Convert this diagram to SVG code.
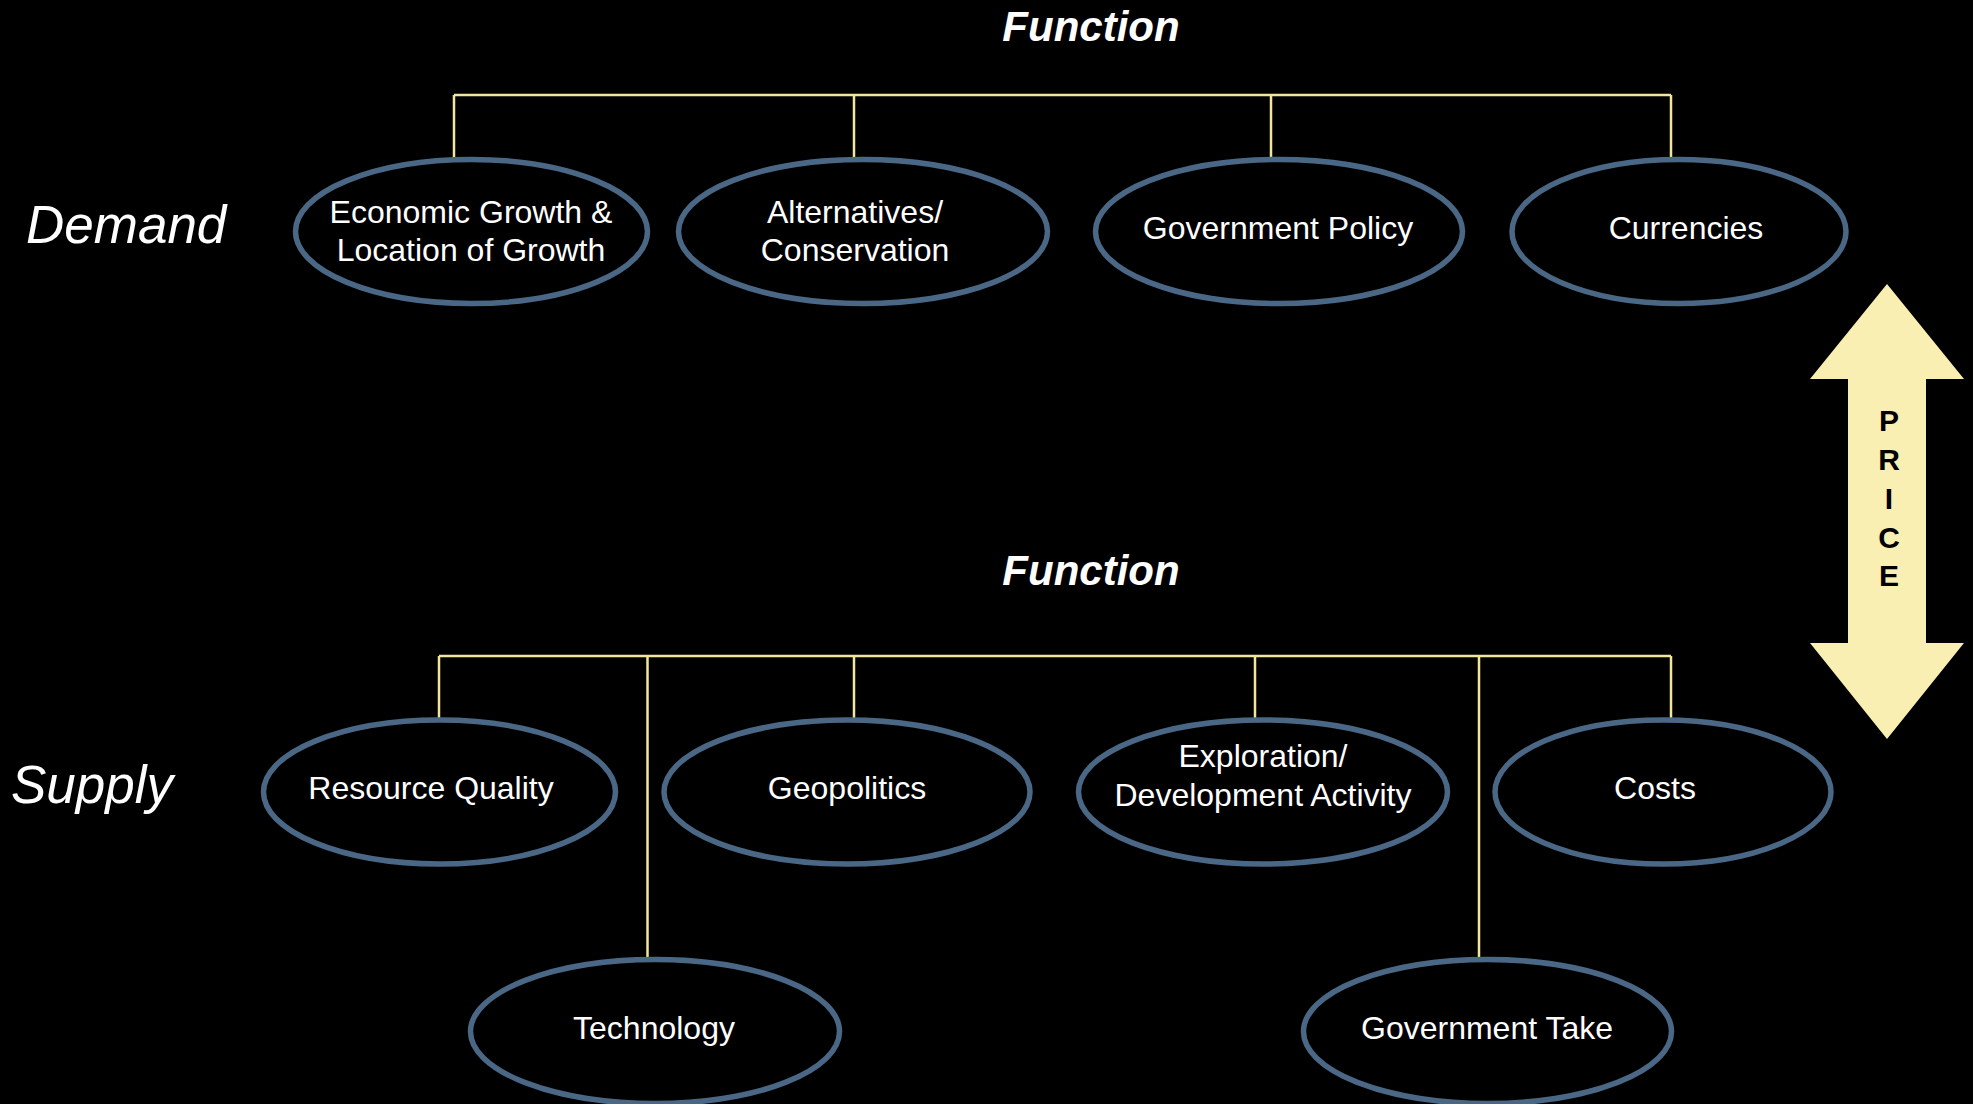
<svg xmlns="http://www.w3.org/2000/svg" width="1973" height="1104" viewBox="0 0 1973 1104">
<style>
.bg{fill:#000000}
.node ellipse{fill:#000000;stroke:#4A6886;stroke-width:5.5}
.node text{font-family:"Liberation Sans",Arial,sans-serif;font-size:32px;fill:#FFFFFF;text-anchor:middle}
.conn line{stroke:#F2E69E;stroke-width:2.5}
.title{font-family:"Liberation Sans",Arial,sans-serif;font-size:42px;font-weight:bold;font-style:italic;fill:#FFFFFF;text-anchor:middle}
.side{font-family:"Liberation Sans",Arial,sans-serif;font-size:53px;font-style:italic;fill:#FFFFFF}
.price{font-family:"Liberation Sans",Arial,sans-serif;font-size:30px;font-weight:bold;fill:#000000;text-anchor:middle}
</style>
<rect class="bg" x="0" y="0" width="1973" height="1104"/>

<text class="title" x="1091" y="41">Function</text>
<text class="title" x="1091" y="585">Function</text>
<text class="side" x="26" y="243">Demand</text>
<text class="side" x="11" y="803">Supply</text>

<g id="connectors" class="conn">
  <line x1="454" y1="95" x2="1671" y2="95"/>
  <line x1="454" y1="95" x2="454" y2="159"/>
  <line x1="854" y1="95" x2="854" y2="159"/>
  <line x1="1271" y1="95" x2="1271" y2="159"/>
  <line x1="1671" y1="95" x2="1671" y2="159"/>
  <line x1="439" y1="656" x2="1671" y2="656"/>
  <line x1="439" y1="656" x2="439" y2="719"/>
  <line x1="647.5" y1="656" x2="647.5" y2="959"/>
  <line x1="854" y1="656" x2="854" y2="719"/>
  <line x1="1255" y1="656" x2="1255" y2="719"/>
  <line x1="1479" y1="656" x2="1479" y2="959"/>
  <line x1="1671" y1="656" x2="1671" y2="719"/>
</g>

<g id="n-econ" class="node">
  <ellipse cx="471.5" cy="231.5" rx="176" ry="72"/>
  <text x="471" y="223">Economic Growth &amp;</text>
  <text x="471" y="261">Location of Growth</text>
</g>
<g id="n-alt" class="node">
  <ellipse cx="863" cy="231.5" rx="184.5" ry="72"/>
  <text x="855" y="223">Alternatives/</text>
  <text x="855" y="261">Conservation</text>
</g>
<g id="n-govpol" class="node">
  <ellipse cx="1279" cy="231.5" rx="183.5" ry="72"/>
  <text x="1278" y="239">Government Policy</text>
</g>
<g id="n-curr" class="node">
  <ellipse cx="1679" cy="231.5" rx="167" ry="72"/>
  <text x="1686" y="239">Currencies</text>
</g>

<g id="n-resq" class="node">
  <ellipse cx="439.5" cy="792" rx="176" ry="72"/>
  <text x="431" y="799">Resource Quality</text>
</g>
<g id="n-geo" class="node">
  <ellipse cx="847" cy="792" rx="183" ry="72"/>
  <text x="847" y="799">Geopolitics</text>
</g>
<g id="n-expl" class="node">
  <ellipse cx="1263" cy="792" rx="184.5" ry="72"/>
  <text x="1263" y="767">Exploration/</text>
  <text x="1263" y="806">Development Activity</text>
</g>
<g id="n-costs" class="node">
  <ellipse cx="1663" cy="792" rx="168" ry="72"/>
  <text x="1655" y="799">Costs</text>
</g>
<g id="n-tech" class="node">
  <ellipse cx="655" cy="1031.5" rx="184.5" ry="72"/>
  <text x="654" y="1039">Technology</text>
</g>
<g id="n-govtake" class="node">
  <ellipse cx="1487.5" cy="1031.5" rx="184" ry="72"/>
  <text x="1487" y="1039">Government Take</text>
</g>

<g id="price">
  <polygon points="1887,284 1964,379 1926,379 1926,643 1964,643 1887,739 1810,643 1848,643 1848,379 1810,379" fill="#F9EFB2"/>
  <text class="price" x="1889" y="431">P</text>
  <text class="price" x="1889" y="470">R</text>
  <text class="price" x="1889" y="509">I</text>
  <text class="price" x="1889" y="548">C</text>
  <text class="price" x="1889" y="586">E</text>
</g>
</svg>
